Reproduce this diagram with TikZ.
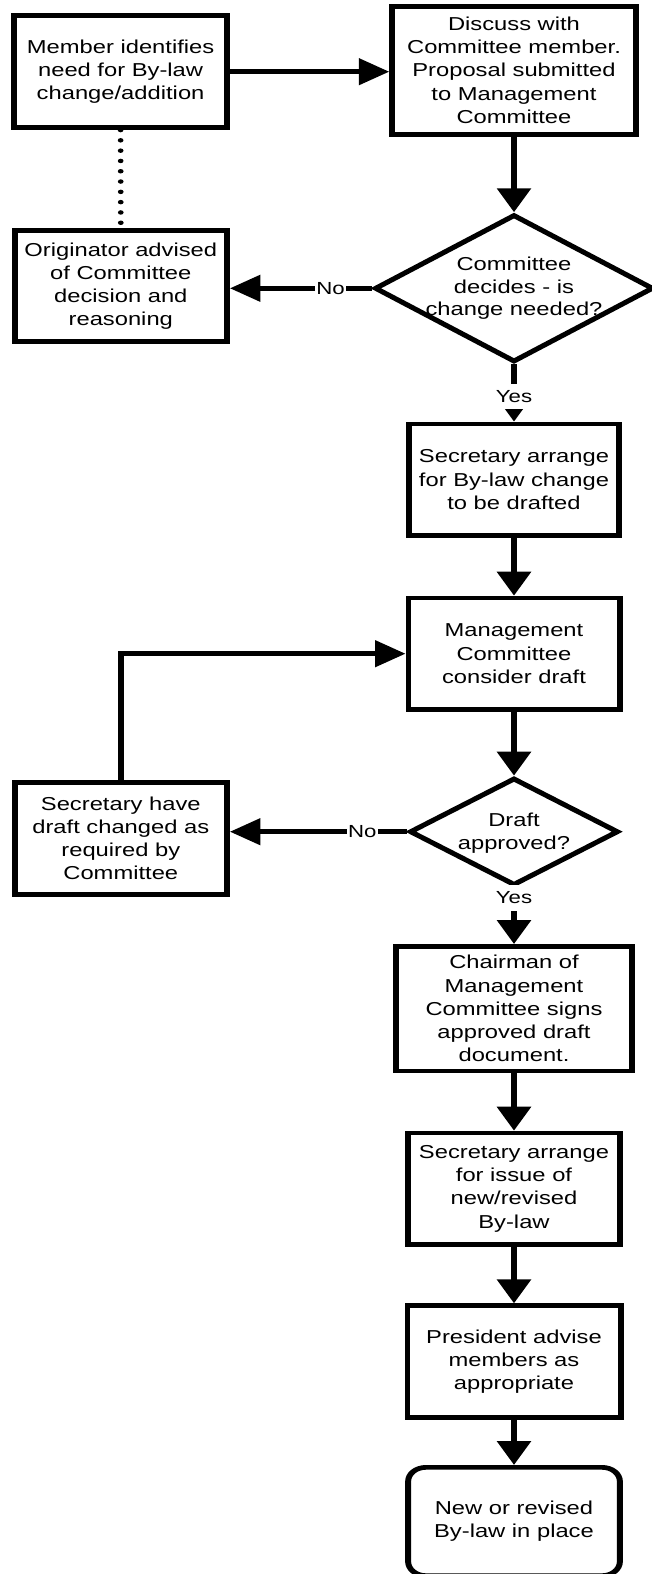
\documentclass[tikz,border=0pt]{standalone}
\usepackage{fontspec}
\setmainfont{Liberation Sans}
\usetikzlibrary{arrows.meta,shapes.geometric}
\begin{document}
\begin{tikzpicture}
\useasboundingbox (0pt,0pt) rectangle (652pt,-1574pt);
\begin{scope}[transform canvas={xscale=1.27}, x=0.787402pt, y=-1pt,
  lw/.style={line width=4.7pt},
  box/.style 2 args={draw, lw, minimum width={#1pt/1.27-4.7pt}, minimum height={#2pt-4.7pt},
    inner sep=0pt, align=center, font=\fontsize{18.7}{23.2}\selectfont},
  dia/.style 2 args={draw, lw, diamond, minimum width={#1pt/1.27-6pt}, minimum height={#2pt-6pt},
    inner sep=0pt},
  dtext/.style={align=center, inner sep=0pt, font=\fontsize{18.7}{22.8}\selectfont},
  lab/.style={fill=white, inner xsep=1pt, inner ysep=6.5pt, font=\fontsize{17.5}{20}\selectfont},
  arr/.style={lw, -{Triangle[length=24pt,width=26pt]}},
  dots/.style={line width=4.5pt, line cap=round, dash pattern=on 0pt off 10.3pt}
]
\node[box={219}{116.7}] (b1) at (120.6,71.7) {Member identifies\\need for By-law\\change/addition};
\node[box={249.5}{132.7}] (b2) at (514,70.3) {Discuss with\\Committee member.\\Proposal submitted\\to Management\\Committee};
\node[box={218.3}{115.7}] (b3) at (120.8,286.2) {Originator advised\\of Committee\\decision and\\reasoning};
\node[dia={286.6}{153.4}] (d1) at (514,288.3) {};
\node[dtext] (d1t) at (514,288.3) {Committee\\decides - is\\change needed?};
\node[box={216.7}{116}] (b4) at (514,479.7) {Secretary arrange\\for By-law change\\to be drafted};
\node[box={217}{116}] (b5) at (514,653.7) {Management\\Committee\\consider draft};
\node[box={218.3}{116.7}] (b6) at (120.8,838.3) {Secretary have\\draft changed as\\required by\\Committee};
\node[dia={216.6}{113.4}] (d2) at (514,831.7) {};
\node[dtext] (d2t) at (514,833.3) {Draft\\approved?};
\node[box={241.3}{129.3}] (b7) at (514,1008.7) {Chairman of\\Management\\Committee signs\\approved draft\\document.};
\node[box={218.6}{116}] (b8) at (514,1188.7) {Secretary arrange\\for issue of\\new/revised\\By-law};
\node[box={219}{116.7}] (b9) at (514,1361.7) {President advise\\members as\\appropriate};
\node[box={217.7}{113}, rounded corners=14pt] (b10) at (514,1521.5) {New or revised\\By-law in place};

\draw[arr] (b1.east) -- (b1.east -| b2.west);
\draw[dots] (b1.south) -- (b3.north);
\draw[arr] (b2.south) -- (d1.north);
\draw[arr] (d1.west) -- node[lab, pos=0.29] (no1) {No} (d1.west -| b3.east);
\draw[arr] (d1.south) -- node[lab, pos=0.56] (yes1) {Yes} (b4.north);
\draw[arr] (b4.south) -- (b5.north);
\draw[arr] (b6.north) |- (b5.west);
\draw[arr] (b5.south) -- (d2.north);
\draw[arr] (d2.west) -- node[lab, pos=0.25] (no2) {No} (d2.west -| b6.east);
\draw[arr] (d2.south) -- node[lab, pos=0.18] (yes2) {Yes} (b7.north);
\draw[arr] (b7.south) -- (b8.north);
\draw[arr] (b8.south) -- (b9.north);
\draw[arr] (b9.south) -- (b10.north);
\end{scope}
\end{tikzpicture}
\end{document}
